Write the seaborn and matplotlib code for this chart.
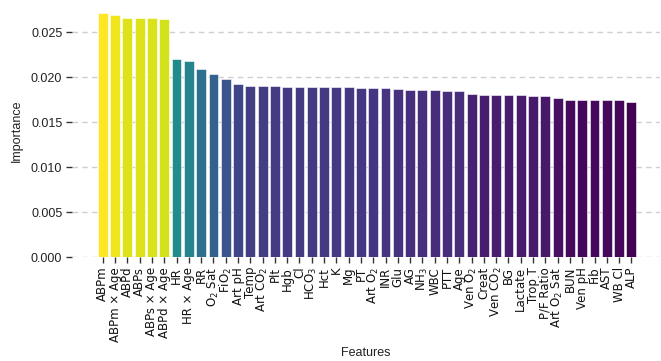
import numpy as np
import pandas as pd
import matplotlib
matplotlib.use("Agg")
import matplotlib.pyplot as plt
import seaborn as sns

features = [
    "ABPm", "ABPm × Age", "ABPd", "ABPs", "ABPs × Age", "ABPd × Age",
    "HR", "HR × Age", "RR", "O$_2$ Sat", "FiO$_2$", "Art pH", "Temp",
    "Art CO$_2$", "Plt", "Hgb", "Cl", "HCO$_3$", "Hct", "K", "Mg", "PT",
    "Art O$_2$", "INR", "Glu", "AG", "NH$_3$", "WBC", "PTT", "Age",
    "Ven O$_2$", "Creat", "Ven CO$_2$", "BG", "Lactate", "Trop T",
    "P/F Ratio", "Art O$_2$ Sat", "BUN", "Ven pH", "Fib", "AST", "WB Cl", "ALP",
]

importance = [
    0.0271, 0.0269, 0.02658, 0.02657, 0.02656, 0.02643,
    0.0220, 0.02173, 0.02092, 0.0203, 0.01981, 0.01926, 0.0190,
    0.01900, 0.01898, 0.0189, 0.01890, 0.01889, 0.01887, 0.01887, 0.01886, 0.01879,
    0.01876, 0.01875, 0.01865, 0.01857, 0.01856, 0.01853, 0.0185, 0.01849,
    0.01813, 0.01805, 0.01802, 0.01801, 0.01798, 0.01791,
    0.01790, 0.01765, 0.0175, 0.01747, 0.01747, 0.01746, 0.01743, 0.01725,
]

df = pd.DataFrame({"Features": features, "Importance": importance})

# colour each bar by its importance on the viridis scale
vals = np.array(importance)
norm = (vals - vals.min()) / (vals.max() - vals.min())
cmap = plt.get_cmap("viridis")
palette = {f: cmap(n) for f, n in zip(features, norm)}

sns.set_style("white")
plt.rcParams["font.family"] = ["Liberation Sans", "DejaVu Sans"]
plt.rcParams["mathtext.fontset"] = "dejavusans"

fig = plt.figure(figsize=(6.61, 3.61), dpi=100)
ax = fig.add_axes([0.109, 0.288, 0.889, 0.698])

sns.barplot(data=df, x="Features", y="Importance", hue="Features",
            palette=palette, legend=False, width=0.8, saturation=1,
            edgecolor="white", linewidth=0.4, ax=ax, zorder=3)

ax.set_xlim(-2.5, 45.3)
ax.set_ylim(0, 0.028)
ax.set_yticks([0.0, 0.005, 0.010, 0.015, 0.020, 0.025])
ax.set_yticklabels([f"{t:.3f}" for t in ax.get_yticks()], fontsize=9,
                   color="#222222")
ax.set_xticks(range(len(features)))
ax.set_xticklabels(features, rotation=90, fontsize=8.5,
                   family=["DejaVu Sans"], color="#111111")

ax.yaxis.grid(True, linestyle=(0, (4, 3)), color="#d0d0d0", linewidth=1.0,
              zorder=0)
ax.xaxis.grid(False)
for s in ax.spines.values():
    s.set_visible(False)
ax.tick_params(axis="both", which="major", length=4, width=1.0,
               color="#333333", pad=3, left=True, bottom=True)

ax.set_xlabel("Features", fontsize=9, labelpad=4, color="#222222")
ax.set_ylabel("Importance", fontsize=9, labelpad=6, color="#222222")

fig.savefig("out.png", dpi=100)
